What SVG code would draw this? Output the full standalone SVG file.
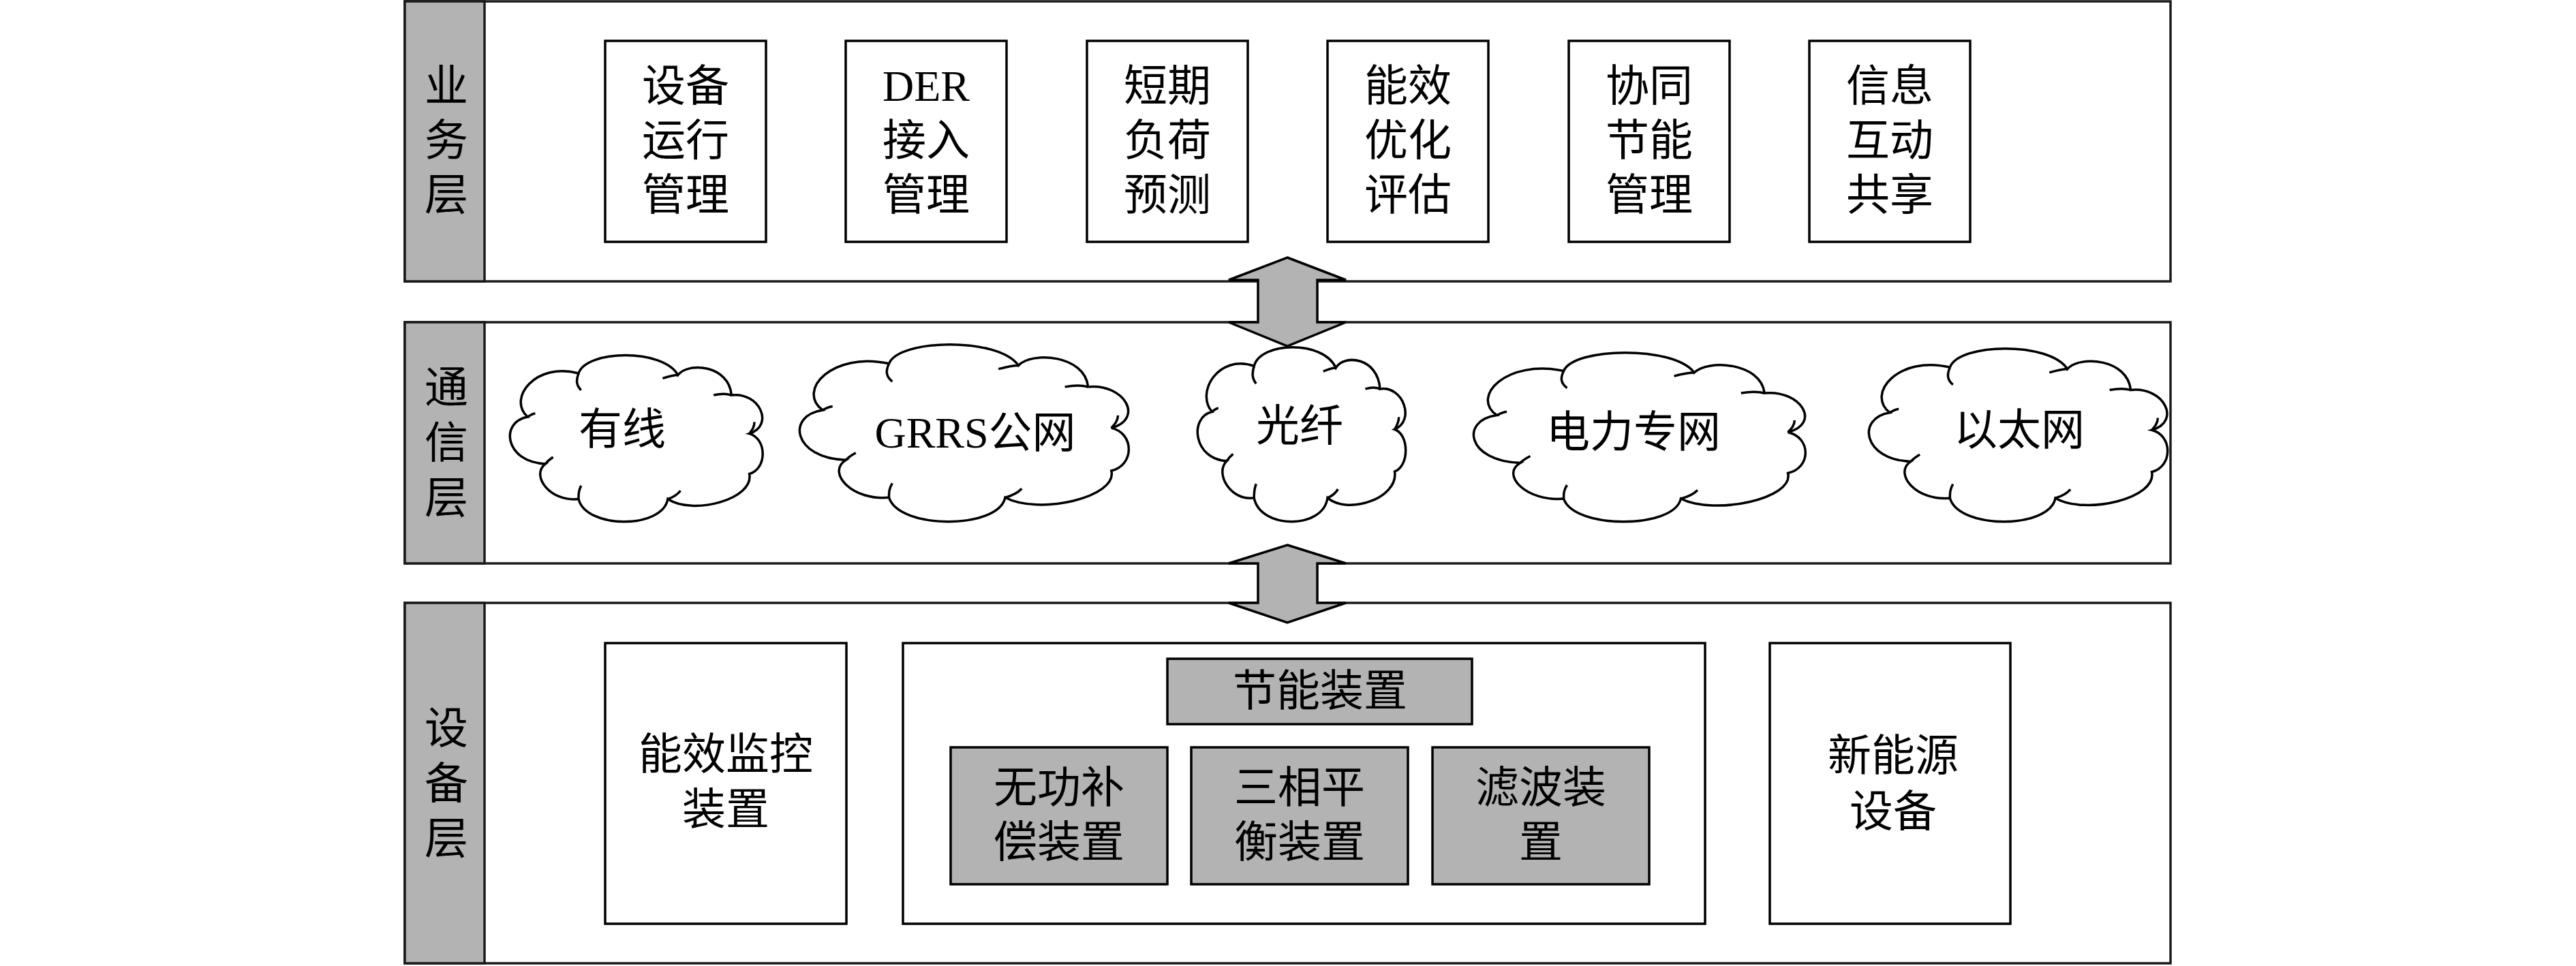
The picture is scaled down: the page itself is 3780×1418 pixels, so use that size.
<svg xmlns="http://www.w3.org/2000/svg" width="3780" height="1418" viewBox="0 0 3780 1418">
<defs>
<style>
.layer{fill:#fff;stroke:#1a1a1a;stroke-width:3.5}
.strip{fill:#b3b3b3;stroke:#1a1a1a;stroke-width:3.5}
.box{fill:#fff;stroke:#000;stroke-width:3.5}
.gbox{fill:#b3b3b3;stroke:#000;stroke-width:3.5}
.cloud{fill:#fff;stroke:#000;stroke-width:3.5}
.hook{fill:none;stroke:#000;stroke-width:3.5}
.arrow{fill:#b3b3b3;stroke:#000;stroke-width:3.5;stroke-linejoin:miter}
text{font-family:'Liberation Serif','Noto Sans CJK SC',serif;font-size:64px;fill:#000;text-anchor:middle}
</style>
</defs>
<rect width="3780" height="1418" fill="#fff"/>

<!-- Business layer -->
<g id="layer-business">
<rect class="layer" x="594" y="2" width="2591" height="411"/>
<rect class="strip" x="594" y="2" width="117" height="411"/>
<text x="655" y="148">业</text>
<text x="655" y="228">务</text>
<text x="655" y="308">层</text>
</g>
<g id="node-sbyx">
<rect class="box" x="888" y="60" width="236" height="295"/>
<text x="1006" y="148">设备</text><text x="1006" y="228">运行</text><text x="1006" y="308">管理</text>
</g>
<g id="node-der">
<rect class="box" x="1241" y="60" width="236" height="295"/>
<text x="1359" y="148">DER</text><text x="1359" y="228">接入</text><text x="1359" y="308">管理</text>
</g>
<g id="node-dqfh">
<rect class="box" x="1595" y="60" width="236" height="295"/>
<text x="1713" y="148">短期</text><text x="1713" y="228">负荷</text><text x="1713" y="308">预测</text>
</g>
<g id="node-nxyh">
<rect class="box" x="1948" y="60" width="236" height="295"/>
<text x="2066" y="148">能效</text><text x="2066" y="228">优化</text><text x="2066" y="308">评估</text>
</g>
<g id="node-xtjn">
<rect class="box" x="2302" y="60" width="236" height="295"/>
<text x="2420" y="148">协同</text><text x="2420" y="228">节能</text><text x="2420" y="308">管理</text>
</g>
<g id="node-xxhd">
<rect class="box" x="2655" y="60" width="236" height="295"/>
<text x="2773" y="148">信息</text><text x="2773" y="228">互动</text><text x="2773" y="308">共享</text>
</g>

<!-- Communication layer -->
<g id="layer-comm">
<rect class="layer" x="594" y="473" width="2591" height="354"/>
<rect class="strip" x="594" y="473" width="117" height="354"/>
<text x="655" y="591">通</text>
<text x="655" y="672">信</text>
<text x="655" y="753">层</text>
</g>
<g id="cloud-youxian">
<g transform="translate(748,521) scale(3.74,2.46)">
<path class="cloud" vector-effect="non-scaling-stroke" d="M27,11 C30,-3 60,-4 66,12 C70,4 86,6 87,24 C98,22 104,42 94,47 C101,50 101,68 94,71 C96,86 72,96 62,86 C60,104 30,104 27,86 C16,88 8,72 14,65 C-2,64 -4,40 7,37 C-1,26 10,4 27,11 Z"/>
<path class="hook" vector-effect="non-scaling-stroke" d="M27,11 C26,15 26,18 28,21 M66,12 C64,12 62,13 60,14 M87,24 C85,23 83,23 80,24 M94,47 C95,45 96,43 96,40 M62,86 C64,85 66,83 67,81 M27,86 C27,83 27,81 28,78 M14,65 C15,63 16,62 17,61 M7,37 C8,36 9,35 10,35"/>
</g>
<text x="913" y="652">有线</text>
</g>
<g id="cloud-grrs">
<g transform="translate(1173,505) scale(4.87,2.62)">
<path class="cloud" vector-effect="non-scaling-stroke" d="M27,11 C30,-3 60,-4 66,12 C70,4 86,6 87,24 C98,22 104,42 94,47 C101,50 101,68 94,71 C96,86 72,96 62,86 C60,104 30,104 27,86 C16,88 8,72 14,65 C-2,64 -4,40 7,37 C-1,26 10,4 27,11 Z"/>
<path class="hook" vector-effect="non-scaling-stroke" d="M27,11 C26,15 26,18 28,21 M66,12 C64,12 62,13 60,14 M87,24 C85,23 83,23 80,24 M94,47 C95,45 96,43 96,40 M62,86 C64,85 66,83 67,81 M27,86 C27,83 27,81 28,78 M14,65 C15,63 16,62 17,61 M7,37 C8,36 9,35 10,35"/>
</g>
<text x="1431" y="657">GRRS公网</text>
</g>
<g id="cloud-guangxian">
<g transform="translate(1757,509) scale(3.08,2.58)">
<path class="cloud" vector-effect="non-scaling-stroke" d="M27,11 C30,-3 60,-4 66,12 C70,4 86,6 87,24 C98,22 104,42 94,47 C101,50 101,68 94,71 C96,86 72,96 62,86 C60,104 30,104 27,86 C16,88 8,72 14,65 C-2,64 -4,40 7,37 C-1,26 10,4 27,11 Z"/>
<path class="hook" vector-effect="non-scaling-stroke" d="M27,11 C26,15 26,18 28,21 M66,12 C64,12 62,13 60,14 M87,24 C85,23 83,23 80,24 M94,47 C95,45 96,43 96,40 M62,86 C64,85 66,83 67,81 M27,86 C27,83 27,81 28,78 M14,65 C15,63 16,62 17,61 M7,37 C8,36 9,35 10,35"/>
</g>
<text x="1907" y="647">光纤</text>
</g>
<g id="cloud-dlzw">
<g transform="translate(2162,517) scale(4.91,2.50)">
<path class="cloud" vector-effect="non-scaling-stroke" d="M27,11 C30,-3 60,-4 66,12 C70,4 86,6 87,24 C98,22 104,42 94,47 C101,50 101,68 94,71 C96,86 72,96 62,86 C60,104 30,104 27,86 C16,88 8,72 14,65 C-2,64 -4,40 7,37 C-1,26 10,4 27,11 Z"/>
<path class="hook" vector-effect="non-scaling-stroke" d="M27,11 C26,15 26,18 28,21 M66,12 C64,12 62,13 60,14 M87,24 C85,23 83,23 80,24 M94,47 C95,45 96,43 96,40 M62,86 C64,85 66,83 67,81 M27,86 C27,83 27,81 28,78 M14,65 C15,63 16,62 17,61 M7,37 C8,36 9,35 10,35"/>
</g>
<text x="2397" y="656">电力专网</text>
</g>
<g id="cloud-ytw">
<g transform="translate(2742,511) scale(4.42,2.56)">
<path class="cloud" vector-effect="non-scaling-stroke" d="M27,11 C30,-3 60,-4 66,12 C70,4 86,6 87,24 C98,22 104,42 94,47 C101,50 101,68 94,71 C96,86 72,96 62,86 C60,104 30,104 27,86 C16,88 8,72 14,65 C-2,64 -4,40 7,37 C-1,26 10,4 27,11 Z"/>
<path class="hook" vector-effect="non-scaling-stroke" d="M27,11 C26,15 26,18 28,21 M66,12 C64,12 62,13 60,14 M87,24 C85,23 83,23 80,24 M94,47 C95,45 96,43 96,40 M62,86 C64,85 66,83 67,81 M27,86 C27,83 27,81 28,78 M14,65 C15,63 16,62 17,61 M7,37 C8,36 9,35 10,35"/>
</g>
<text x="2963" y="653">以太网</text>
</g>

<!-- Device layer -->
<g id="layer-device">
<rect class="layer" x="594" y="885" width="2591" height="529"/>
<rect class="strip" x="594" y="885" width="117" height="529"/>
<text x="655" y="1091">设</text>
<text x="655" y="1172">备</text>
<text x="655" y="1253">层</text>
</g>
<g id="node-nxjk">
<rect class="box" x="888" y="944" width="354" height="412"/>
<text x="1065" y="1129">能效监控</text><text x="1065" y="1210">装置</text>
</g>
<g id="node-jnzz-group">
<rect class="box" x="1325" y="944" width="1177" height="412"/>
</g>
<g id="node-jnzz">
<rect class="gbox" x="1713" y="967" width="447" height="96"/>
<text x="1937" y="1036">节能装置</text>
</g>
<g id="node-wgbc">
<rect class="gbox" x="1395" y="1097" width="318" height="201"/>
<text x="1554" y="1178">无功补</text><text x="1554" y="1258">偿装置</text>
</g>
<g id="node-sxph">
<rect class="gbox" x="1748" y="1097" width="318" height="201"/>
<text x="1907" y="1178">三相平</text><text x="1907" y="1258">衡装置</text>
</g>
<g id="node-lbzz">
<rect class="gbox" x="2102" y="1097" width="318" height="201"/>
<text x="2261" y="1178">滤波装</text><text x="2261" y="1258">置</text>
</g>
<g id="node-xny">
<rect class="box" x="2597" y="944" width="353" height="412"/>
<text x="2778" y="1131">新能源</text><text x="2778" y="1213">设备</text>
</g>

<!-- Connectors -->
<g id="connectors">
<polygon class="arrow" points="1889,378 1975,411 1933,411 1933,473 1975,473 1889,508 1803,473 1846,473 1846,411 1803,411"/>
<polygon class="arrow" points="1889,800 1975,827 1933,827 1933,885 1975,885 1889,914 1803,885 1846,885 1846,827 1803,827"/>
</g>
</svg>
